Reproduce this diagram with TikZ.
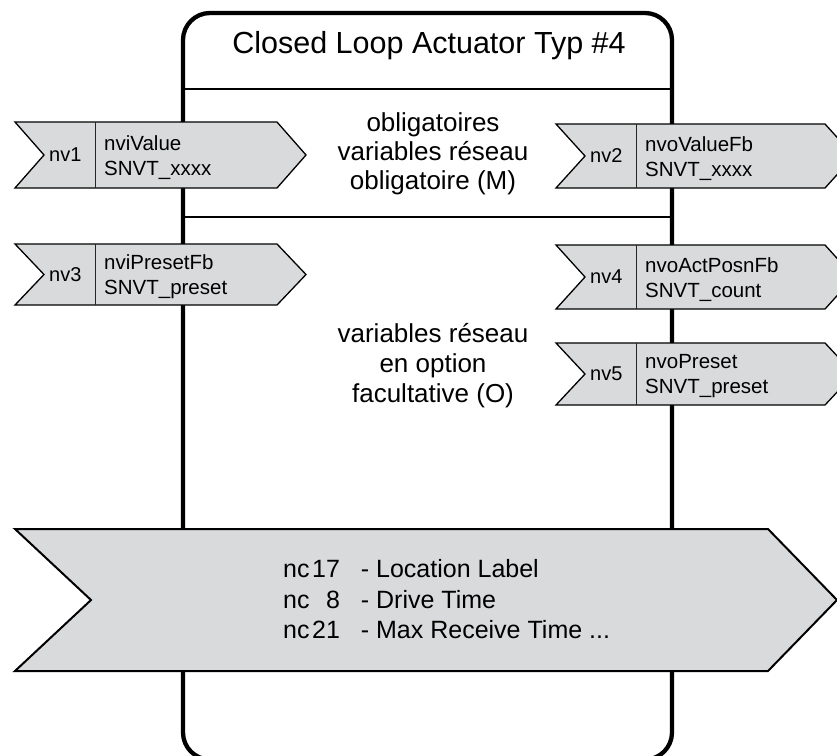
\documentclass[tikz,border=0pt]{standalone}
\usepackage{fontspec}
\setmainfont{Liberation Sans}
\definecolor{arrowgray}{RGB}{217,218,220}
\tikzset{
  nvshape/.style={fill=arrowgray, draw=black, line width=1.3pt, line join=miter},
  bigshape/.style={fill=arrowgray, draw=black, line width=2pt, line join=miter},
  divider/.style={draw=black!85, line width=1pt},
  boxline/.style={draw=black, line width=4.3pt, rounded corners=27pt},
  sepline/.style={draw=black, line width=2pt},
  shortlbl/.style={inner sep=0pt, anchor=west, font=\fontsize{20}{24}\selectfont},
  longlbl/.style={inner sep=0pt, anchor=west, align=left, font=\fontsize{20.5}{25}\selectfont},
  midtext/.style={inner sep=0pt, align=center, font=\fontsize{26}{29}\selectfont},
  titletext/.style={inner sep=0pt, anchor=base, font=\fontsize{30.5}{36}\selectfont},
  bigtext/.style={inner sep=0pt, anchor=west, font=\fontsize{25}{30.5}\selectfont}
}
% #1 name, #2 left x, #3 top y, #4 bottom y, #5 body length, #6 short label, #7 long label
\newcommand{\nvarrow}[7]{%
  \draw[nvshape] (#2,#3) -- ({#2+#5},#3) -- ({#2+#5+29},{(#3+#4)/2}) -- ({#2+#5},#4)
    -- (#2,#4) -- ({#2+29},{(#3+#4)/2}) -- cycle;
  \draw[divider] ({#2+80},#3) -- ({#2+80},#4);
  \node[shortlbl] (#1-s) at ({#2+34},{(#3+#4)/2}) {#6};
  \node[longlbl] (#1-l) at ({#2+89},{(#3+#4)/2+2.5}) {#7};
}
\begin{document}
\begin{tikzpicture}[x=1pt, y=-1pt]
  \clip (0,0) rectangle (837,755);
  % main box
  \coordinate (boxTL) at (183,13);
  \coordinate (boxBR) at (672,759.5);
  \draw[boxline] (boxTL) rectangle (boxBR);
  \coordinate (s1l) at (183,89);
  \coordinate (s1r) at (672,89);
  \coordinate (s2l) at (183,217);
  \coordinate (s2r) at (672,217);
  \draw[sepline] (s1l) -- (s1r);
  \draw[sepline] (s2l) -- (s2r);
  % title
  \node[titletext] (title) at (429,53) {Closed Loop Actuator Typ \#4};
  % network variable arrows
  \nvarrow{nv1}{15}{122}{188}{262}{nv1}{nviValue\\SNVT\_xxxx}
  \nvarrow{nv3}{15}{244}{305}{262}{nv3}{nviPresetFb\\SNVT\_preset}
  \nvarrow{nv2}{556}{124}{188}{269}{nv2}{nvoValueFb\\SNVT\_xxxx}
  \nvarrow{nv4}{556}{245}{309}{269}{nv4}{nvoActPosnFb\\SNVT\_count}
  \nvarrow{nv5}{556}{343}{405}{269}{nv5}{nvoPreset\\SNVT\_preset}
  % middle texts
  \node[midtext] (mand) at (433,154) {obligatoires\\variables réseau\\obligatoire (M)};
  \node[midtext, font=\fontsize{26}{30}\selectfont] (opt) at (433,366) {variables réseau\\en option\\facultative (O)};
  % big config arrow
  \draw[bigshape] (15,529) -- (768,529) -- (837,600) -- (768,671) -- (15,671) -- (91,600) -- cycle;
  \node[bigtext] (nc) at (283,602) {\begin{tabular}{@{}l@{\hspace{2.5pt}}r@{\hspace{21pt}}l@{}}
    nc&17&- Location Label\\
    nc&8&- Drive Time\\
    nc&21&- Max Receive Time ...
  \end{tabular}};
\end{tikzpicture}
\end{document}
